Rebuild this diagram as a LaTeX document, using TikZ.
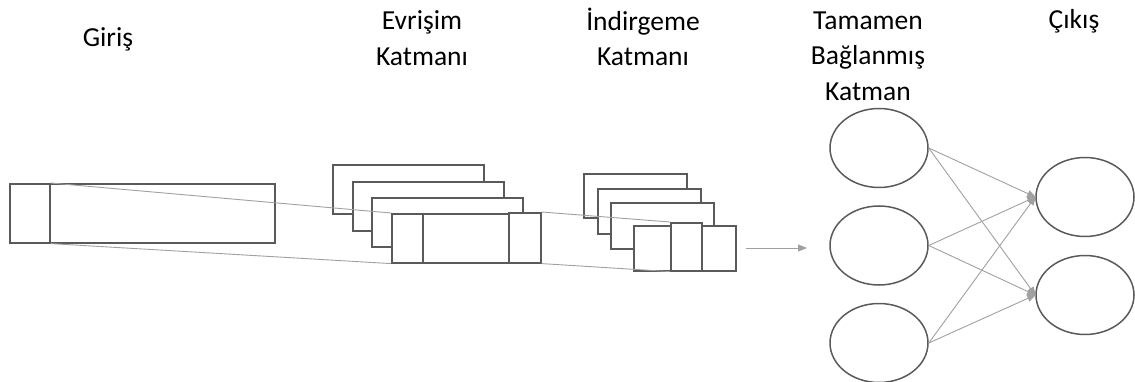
\documentclass[tikz,border=0pt]{standalone}
\usepackage{fontspec}
\setmainfont{Carlito}
\usetikzlibrary{shapes.geometric,arrows.meta}
\definecolor{edge}{HTML}{5A5A5A}
\definecolor{thin}{HTML}{A0A0A0}
\tikzset{
  box/.style={draw=edge, fill=white, line width=1.6pt, rectangle, inner sep=0pt, anchor=north west},
  neuron/.style={draw=edge, line width=1.5pt, ellipse, inner sep=0pt, minimum width=98pt, minimum height=79pt},
  guide/.style={draw=thin, line width=0.9pt},
  conn/.style={draw=thin, line width=0.9pt, -{Triangle[length=9pt,width=7pt]}, shorten >=-1pt},
  lbl/.style={font=\fontsize{27.5}{35.5}\selectfont, align=center, anchor=base, inner sep=0pt, text=black}
}
\begin{document}
\begin{tikzpicture}[x=1pt,y=-1pt]
\useasboundingbox (0,0) rectangle (1135,382);
% labels (anchor = baseline of last line)
\node[lbl] (tIn) at (108,46.7) {Giriş};
\node[lbl] (tConv) at (422,65.3) {Evrişim\\Katmanı};
\node[lbl] (tPool) at (643,66) {İndirgeme\\Katmanı};
\node[lbl] (tFc) at (868,100.5) {Tamamen\\Bağlanmış\\Katman};
\node[lbl] (tOut) at (1074,28.7) {Çıkış};
% input
\node[box, minimum width=265pt, minimum height=59pt] (inB) at (9,183) {};
\node[box, minimum width=40pt, minimum height=59pt] (inK) at (9,183) {};
% conv stack (back)
\node[box, minimum width=151pt, minimum height=49pt] (c1) at (332,164) {};
\node[box, minimum width=151pt, minimum height=49pt] (c2) at (352,181) {};
\node[box, minimum width=151pt, minimum height=49pt] (c3) at (371,197) {};
% pool stack (back)
\node[box, minimum width=103pt, minimum height=44pt] (p1) at (583,173) {};
\node[box, minimum width=103pt, minimum height=45pt] (p2) at (597,188) {};
\node[box, minimum width=103pt, minimum height=46pt] (p3) at (610,202) {};
% front conv
\node[box, minimum width=149pt, minimum height=49pt] (c4) at (391,213) {};
\node[box, minimum width=31pt, minimum height=49pt] (cL) at (391,213) {};
\node[box, minimum width=32pt, minimum height=50pt] (cR) at (508,212) {};
% input-to-conv guides
\draw[guide] (inK.north east) -- (c4.north west);
\draw[guide] (inK.south east) -- (c4.south west);
% front pool
\node[box, minimum width=102pt, minimum height=45pt] (p4) at (633,225) {};
\node[box, minimum width=31pt, minimum height=48pt] (pM) at (670,222) {};
% conv-to-pool guides
\draw[guide] (cR.north east) -- (pM.north west);
\draw[guide] (cR.south east) -- (pM.south west);
% arrow
\coordinate (a1) at (746,248);
\coordinate (a2) at (806,248);
\draw[conn] (a1) -- (a2);
% neurons
\node[neuron] (f1) at (879,148) {};
\node[neuron] (f2) at (879,245.5) {};
\node[neuron] (f3) at (879,343) {};
\node[neuron] (o1) at (1085,197) {};
\node[neuron] (o2) at (1085,295) {};
\foreach \s in {f1,f2,f3}{
  \foreach \t in {o1,o2}{
    \draw[conn] (\s.east) -- (\t.west);
  }
}
\end{tikzpicture}
\end{document}
